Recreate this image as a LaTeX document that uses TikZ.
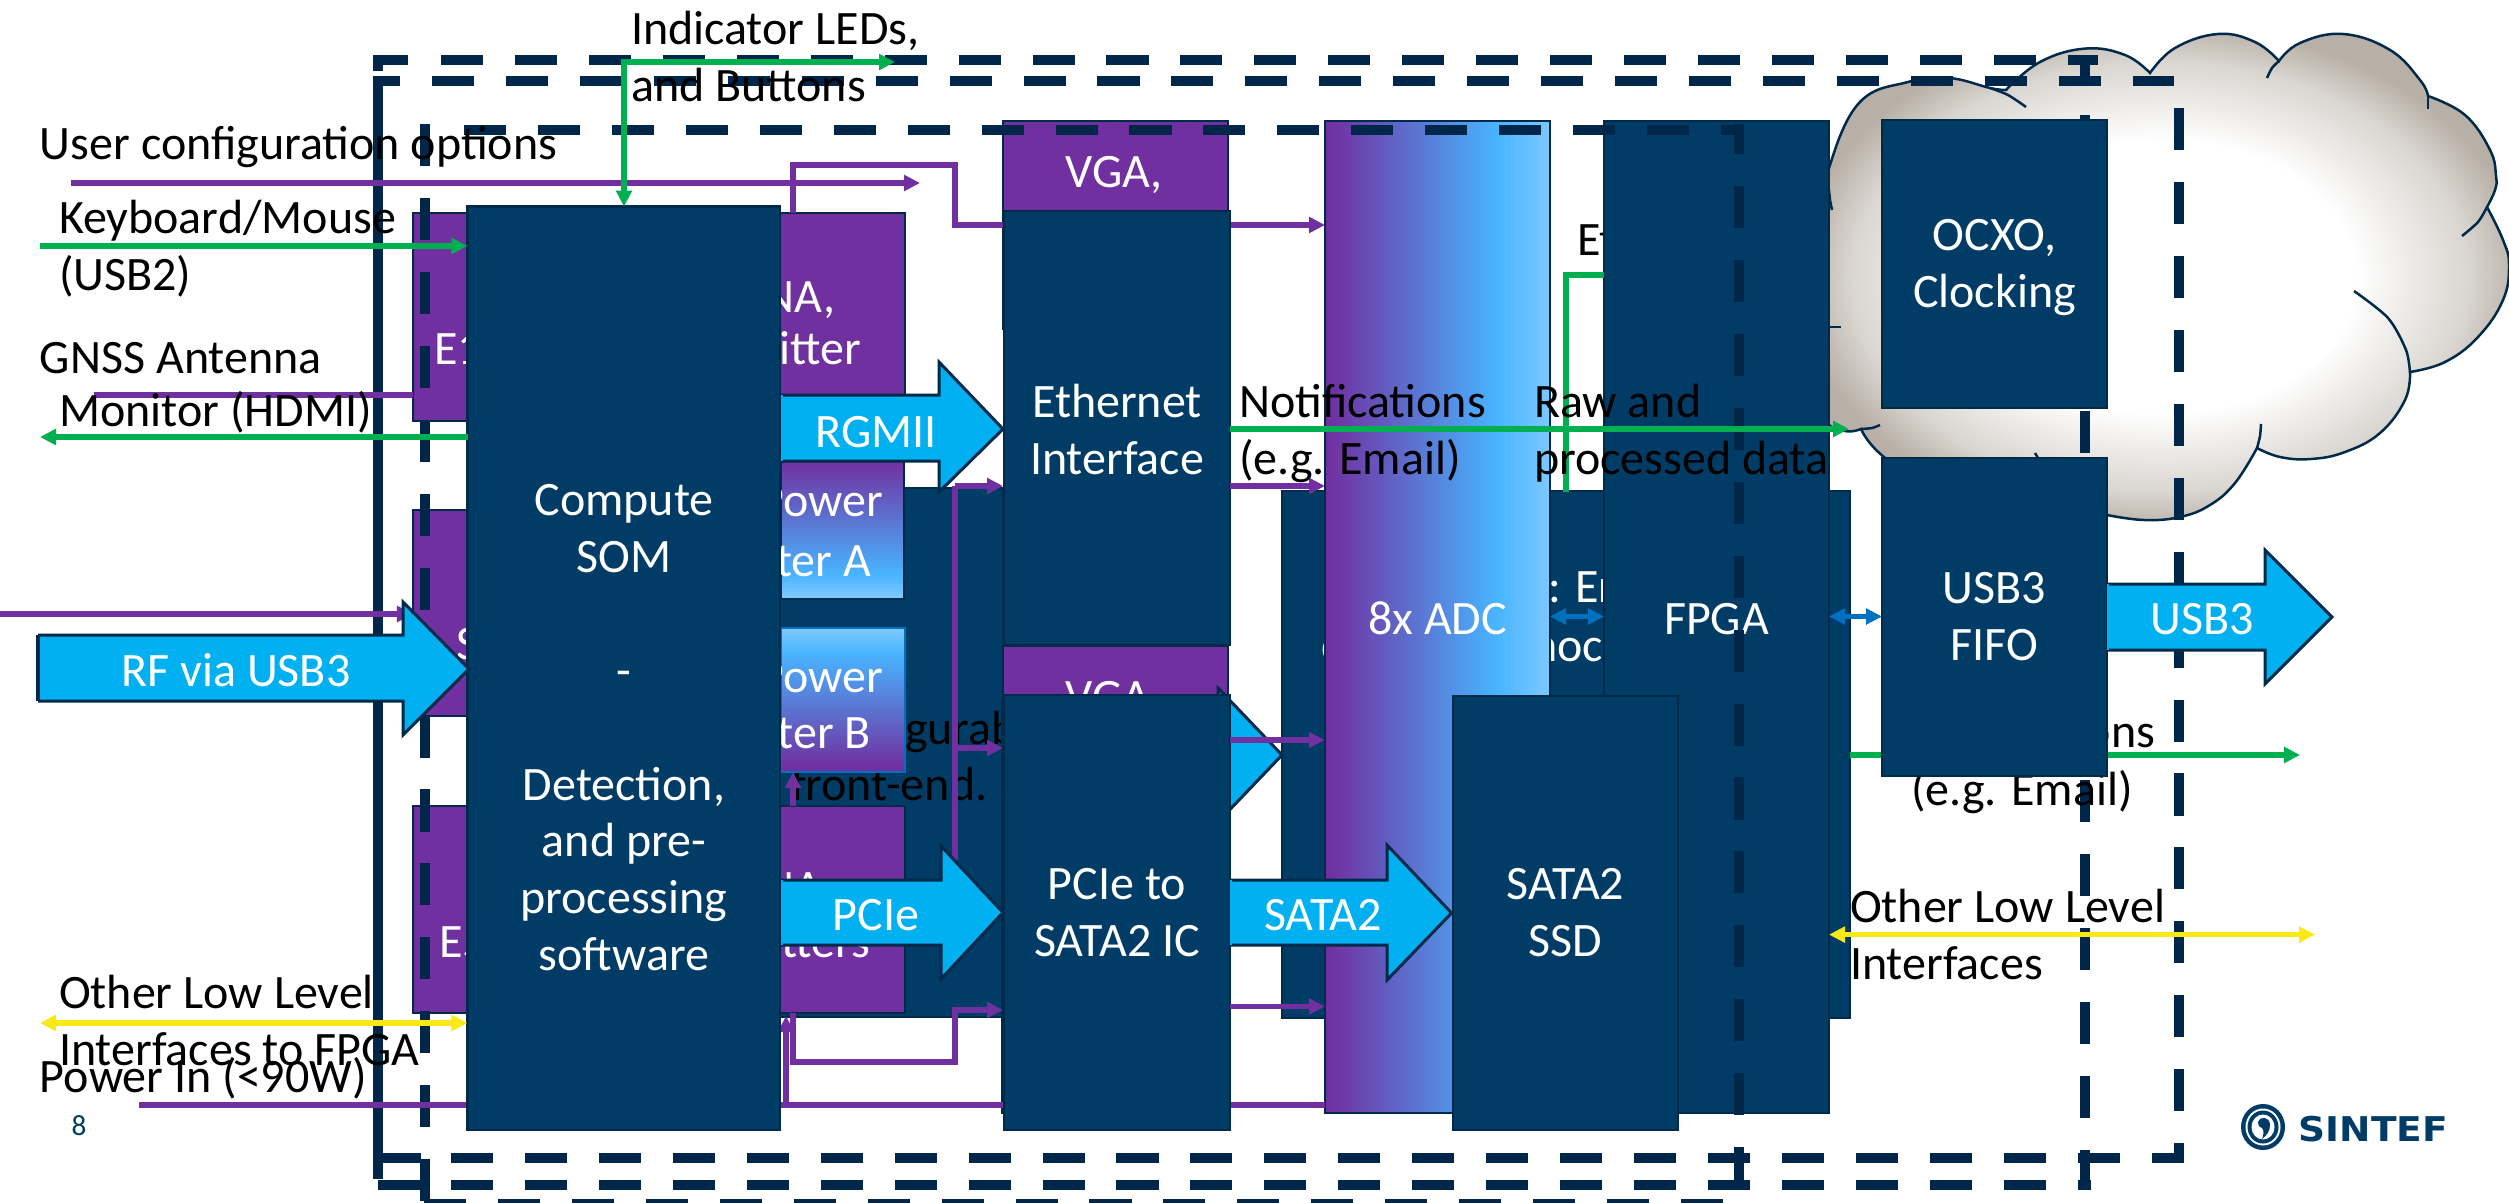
\documentclass[tikz,border=0pt]{standalone}
\usepackage{fontspec}
\setmainfont{Carlito}
\newfontfamily\logofont[FakeStretch=1.1]{DejaVu Sans}
\usetikzlibrary{arrows.meta}
\definecolor{navyb}{HTML}{003C65}
\definecolor{edgeb}{HTML}{002A4A}
\definecolor{dashc}{HTML}{00264A}
\definecolor{purp}{HTML}{7030A0}
\definecolor{cyanb}{HTML}{00B0F0}
\definecolor{grn}{HTML}{00B050}
\definecolor{yel}{HTML}{FAE916}
\definecolor{blu}{HTML}{0070C0}
\definecolor{skyb}{HTML}{48B4FF}
\definecolor{skyl}{HTML}{7DC8FF}
\definecolor{cloudc}{HTML}{B8B0A6}
\definecolor{cloudm}{HTML}{DAD6D1}
\pgfdeclarehorizontalshading{adcsh}{100bp}{color(0bp)=(purp);color(26bp)=(purp);color(63bp)=(skyb);color(75bp)=(skyl);color(100bp)=(skyl)}
\pgfdeclareverticalshading{splitash}{100bp}{color(0bp)=(skyl);color(26bp)=(skyl);color(34bp)=(skyb);color(75bp)=(purp);color(100bp)=(purp)}
\pgfdeclareverticalshading{splitbsh}{100bp}{color(0bp)=(purp);color(27bp)=(purp);color(66bp)=(skyb);color(75bp)=(skyl);color(100bp)=(skyl)}
\pgfdeclareradialshading{cloudsh}{\pgfpoint{0bp}{0bp}}{color(0bp)=(white);color(14bp)=(white);color(22bp)=(cloudm);color(26bp)=(cloudc);color(100bp)=(cloudc)}
\tikzset{
  lbl/.style={inner sep=0pt,outer sep=0pt,font=\fontsize{13.65}{16.2}\selectfont,
    execute at begin node={\rule{0pt}{14.6pt}},execute at end node={\rule[-4.86pt]{0pt}{4.86pt}}},
  blk/.style={lbl,text=black,align=left},
  wht/.style={lbl,text=white,align=center},
  mline/.style={yshift=-0.08cm},
  darkbox/.style={wht,draw=edgeb,fill=navyb,line width=0.025cm},
  purpbox/.style={wht,draw=edgeb,fill=purp,line width=0.025cm},
  adcbox/.style={wht,draw=edgeb,shading=adcsh,shading angle=0,line width=0.025cm},
  splitabox/.style={wht,draw=edgeb,shading=splitash,line width=0.025cm},
  splitbbox/.style={wht,draw=blu,shading=splitbsh,line width=0.025cm},
  barrow/.style={fill=cyanb,draw=edgeb,line width=0.03cm,line join=miter},
  dashln/.style={draw=dashc,line width=0.1cm,dash pattern=on 0.42cm off 0.319cm},
  conn/.style={line width=0.055cm},
  tip/.style={-{Triangle[length=0.16cm,width=0.155cm]}},
  tips/.style={{Triangle[length=0.16cm,width=0.155cm]}-{Triangle[length=0.16cm,width=0.155cm]}},
  cloudln/.style={draw=edgeb,line width=0.025cm},
}
\newcommand\bx[7]{%
  \pgfmathsetmacro\bxcx{(#3+#5)/2}\pgfmathsetmacro\bxcy{(#4+#6)/2}%
  \pgfmathsetmacro\bxw{(#5-#3)*0.01}\pgfmathsetmacro\bxh{(#6-#4)*0.01}%
  \node[#1,minimum width=\bxw cm,minimum height=\bxh cm] (#2) at (\bxcx,\bxcy) {#7};}
\newcommand\blockarrow[8]{%
  \draw[barrow] (#1,#2) -- (#4,#2) -- (#4,#5) -- (#7,#8) -- (#4,#6) -- (#4,#3) -- (#1,#3);
  \fill[cyanb] (#1,#2) rectangle (#1+2,#3);}
\begin{document}
\begin{tikzpicture}[x=0.01cm,y=-0.01cm]
\useasboundingbox (0,0) rectangle (2509,1203);
\clip (0,0) rectangle (2509,1203);
% cloud
\draw[cloudln,shading=cloudsh]
  plot[smooth,tension=0.7] coordinates {(1829,327) (1822,270) (1829,195)}
  -- plot[smooth,tension=0.7] coordinates {(1829,195) (1829,168) (1859,103) (1908,82) (1949,78) (1990,88) (2006,90)}
  -- plot[smooth,tension=0.7] coordinates {(2006,90) (2040,62) (2085,48.6) (2125,55) (2150,73)}
  -- plot[smooth,tension=0.7] coordinates {(2150,73) (2175,48) (2218,34) (2255,42) (2279,61)}
  -- plot[smooth,tension=0.7] coordinates {(2279,61) (2300,43) (2343,34) (2390,50) (2420,80) (2428,96)}
  -- plot[smooth,tension=0.7] coordinates {(2428,96) (2465,115) (2490,150) (2496,176) (2495,190) (2487,207)}
  -- plot[smooth,tension=0.7] coordinates {(2487,207) (2503,240) (2509,265) (2503,300) (2478,337) (2445,362) (2410,372)}
  -- plot[smooth,tension=0.7] coordinates {(2410,372) (2405,400) (2380,433) (2345,452) (2311,459) (2280,457) (2257,448)}
  -- plot[smooth,tension=0.7] coordinates {(2257,448) (2235,483) (2210,505) (2180,517) (2144,520) (2107,515)}
  -- plot[smooth,tension=0.7] coordinates {(2107,515) (2030,510) (1950,500) (1884,457) (1861,429)}
  -- plot[smooth,tension=0.7] coordinates {(1861,429) (1845,431) (1825,420) (1812,380) (1829,327)}
  -- cycle;
\draw[cloudln] plot[smooth] coordinates {(1990,88) (2008,95) (2026,107)};
\draw[cloudln] plot[smooth] coordinates {(2267,78) (2272,68) (2279,61)};
\draw[cloudln] (2428,96) -- (2428,109);
\draw[cloudln] plot[smooth] coordinates {(2487,207) (2478,222) (2462,236)};
\draw[cloudln] plot[smooth] coordinates {(2354,291) (2388,318) (2406,350) (2410,373)};
\draw[cloudln] plot[smooth] coordinates {(2261,424) (2260,436) (2257,448)};
\draw[cloudln] plot[smooth] coordinates {(1861,429) (1872,428) (1880,425)};
\draw[cloudln] (2035,453) -- (2038,458);
\draw[cloudln] (1829,327) -- (1841,327);
\draw[cloudln] plot[smooth] coordinates {(1829,190) (1830,200) (1832,210)};
\node[wht,anchor=east] (alfrag) at (2331,295) {al};
% back boxes
\bx{darkbox}{cfgbox}{780}{488}{1003}{1017}{}
\bx{purpbox}{e1box}{413}{213}{905}{421}{}
\bx{purpbox}{sbox}{413}{510}{780}{716}{}
\bx{purpbox}{e5box}{413}{806}{905}{1013}{}
\bx{splitabox}{splita}{781}{461}{904}{599}{}
\node[wht,anchor=west] (e1t) at (434,347) {E1};
\node[wht,anchor=west] (st) at (456,642) {S};
\node[wht,anchor=west] (e5t) at (439,940) {E5};
\node[wht,anchor=east] (nat) at (835,295) {NA,};
\node[wht,anchor=east] (ittert) at (861,347) {itter};
\node[wht,anchor=east] (nab) at (822,886) {NA};
\node[wht,anchor=east] (tterst) at (870,940) {tters};
\node[wht,anchor=east] (powa) at (883,499) {Power};
\node[wht,anchor=east] (tera) at (871,559) {ter A};
\node[blk,anchor=west] (gurab) at (905,727) {gurab};
\node[blk,anchor=west] (frontend) at (791,783) {front-end.};
\bx{splitbbox}{splitb}{781}{628}{905}{772}{}
\node[wht,anchor=east] (powb) at (883,675) {Power};
\node[wht,anchor=east] (terb) at (871,731) {ter B};
\bx{purpbox}{vgat}{1003}{121}{1228}{329}{}
\node[wht] (vgatt) at (1114,170) {VGA,};
\bx{purpbox}{vgab}{1003}{646}{1228}{855}{}
\node[wht] (vgabt) at (1114,695) {VGA,};
\bx{darkbox}{lowstrip}{1002}{700}{1100}{1113}{}
\bx{darkbox}{widebox}{1282}{491}{1850}{1018}{}
\node[wht,anchor=west] (cfrag) at (1321,644) {c};
\node[wht,anchor=west] (erfrag) at (1548,585) {: Er};
\node[wht,anchor=west] (nocfrag) at (1532,644) {noc};
\bx{adcbox}{adc}{1325}{121}{1550}{1113}{8x ADC}
\node[blk,anchor=west] (etfrag) at (1577,238) {Et};
\coordinate (gbottom) at (1566,492);
\coordinate (gcorner) at (1566,275);
\bx{darkbox}{fpga}{1604}{121}{1829}{1113}{FPGA}
\draw[conn,draw=grn] (gbottom) -- (gcorner) -- (gcorner -| fpga.west);
% dashed frames
\draw[dashln] (441,60) -- (2098,60);
\draw[dashln] (373,60) -- (408,60);
\draw[dashln] (432,81) -- (2174,81);
\draw[dashln] (373,81) -- (400,81);
\draw[dashln] (464,130) -- (1744,130);
\draw[dashln] (425,124) -- (425,1201);
\draw[dashln] (424,1204) -- (1724,1204);
\draw[dashln] (451,1158) -- (2184,1158);
\draw[dashln] (451,1185) -- (2091,1185);
\draw[draw=dashc,line width=0.1cm] (373,1158) -- (421,1158);
\draw[draw=dashc,line width=0.1cm] (378,1185) -- (421,1185);
\draw[draw=dashc,line width=0.1cm] (378,76) -- (378,1179);
\draw[draw=dashc,line width=0.1cm] (378,55) -- (378,71);
\draw[dashln,dash phase=0.14cm] (2085,55) -- (2085,1187);
\draw[dashln] (2179,108) -- (2179,1163);
\draw[dashln,dash phase=0.12cm] (1739,124) -- (1739,1180);
% texts under right boxes
\node[blk,anchor=east] (onsfrag) at (2155,730) {ons};
\node[blk,anchor=west] (emailr) at (1911,788) {(e.g. Email)};
\coordinate (gr) at (2300,755);
\draw[conn,draw=grn,tip] (widebox.east |- gr) -- (gr);
\bx{darkbox}{ocxo}{1882}{120}{2107}{408}{}
\node[wht,mline] (ocxot) at (ocxo) {OCXO,\\Clocking};
\bx{darkbox}{fifo}{1882}{458}{2107}{776}{}
\node[wht,mline] (fifot) at (fifo) {USB3\\FIFO};
% purple connectors
\coordinate (ucfgs) at (71,183);
\coordinate (ucfge) at (920,183);
\draw[conn,draw=purp,tip] (ucfgs) -- (ucfge);
\coordinate (tubx) at (793,165);
\coordinate (tvx) at (955,165);
\coordinate (tvy) at (955,225);
\draw[conn,draw=purp] (tubx |- e1box.north) -- (tubx) -- (tvx) -- (tvy) -- (vgat.west |- tvy);
\draw[conn,draw=purp,tip] (vgat.east |- tvy) -- (adc.west |- tvy);
\coordinate (gnsss) at (94,395);
\draw[conn,draw=purp] (gnsss) -- (e1box.west |- gnsss);
\coordinate (rfl) at (0,614);
\draw[conn,draw=purp,tip] (rfl) -- (sbox.west |- rfl);
\coordinate (v1) at (955,486);
\coordinate (v2) at (955,748);
\coordinate (v3) at (955,860);
\draw[conn,draw=purp] (v1) -- (v3);
\draw[conn,draw=purp,tip] (v1) -- (1003,486);
\draw[conn,draw=purp,tip] (v2) -- (1003,748);
\coordinate (b1) at (793,1062);
\coordinate (b2) at (955,1062);
\coordinate (b3) at (955,1010);
\draw[conn,draw=purp,tip] (b1 |- e5box.south) -- (b1) -- (b2) -- (b3) -- (1003,1010);
\coordinate (upa) at (793,806);
\draw[conn,draw=purp,tip] (upa) -- (splitb.south -| upa);
\coordinate (upb) at (786,1104);
\draw[conn,draw=purp,tip] (upb) -- (786,1016);
\coordinate (pwrs) at (139,1105);
\draw[conn,draw=purp] (pwrs) -- (adc.west |- pwrs);
% hidden arrow
\blockarrow{1100}{722}{788}{1218}{688}{822}{1282}{755}
% boxes over connectors
\bx{darkbox}{ether}{1004}{211}{1230}{645}{}
\node[wht,mline] (ethert) at (1117,430) {Ethernet\\Interface};
\coordinate (p1) at (0,486);
\coordinate (p2) at (0,740);
\coordinate (p3) at (0,1006.5);
\bx{darkbox}{pcie}{1004}{695}{1230}{1130}{}
\node[wht,mline] (pciet) at (pcie) {PCIe to\\SATA2 IC};
\draw[conn,draw=purp,tip] (ether.east |- p1) -- (adc.west |- p1);
\draw[conn,draw=purp,tip] (pcie.east |- p2) -- (adc.west |- p2);
\draw[conn,draw=purp,tip] (pcie.east |- p3) -- (adc.west |- p3);
\bx{darkbox}{som}{467.5}{206.6}{780}{1130}{}
\node[wht,yshift=-0.07cm] (somtext) at (624,729) {Compute\\SOM\\\mbox{}\\-\\\mbox{}\\Detection,\\and pre-\\processing\\software};
% block arrows
\blockarrow{781}{395}{461}{939}{362}{492}{1003}{429}
\node[wht] (rgmiil) at (876,430) {RGMII};
\blockarrow{781}{880}{945}{941}{846}{979}{1003}{912.5}
\node[wht] (pciel) at (876,913) {PCIe};
\blockarrow{38}{635}{701}{403}{602}{735}{469}{669}
\draw[barrow] (38,635) -- (38,701);
\node[wht] (rfl2) at (236,669) {RF via USB3};
\blockarrow{1230}{880}{945}{1387}{845}{980}{1451.5}{913}
\node[wht] (satal) at (1323,913) {SATA2};
\blockarrow{2107}{584}{650}{2265}{550}{684}{2332}{617}
\node[wht] (usbl) at (2202,617) {USB3};
\bx{darkbox}{ssd}{1453}{696}{1678}{1130}{}
\node[wht,mline] (ssdt) at (ssd) {SATA2\\SSD};
% green connectors
\coordinate (indm) at (624,62);
\coordinate (inde) at (895,62);
\draw[conn,draw=grn,tips] (inde) -- (indm) -- (indm |- som.north);
\coordinate (kbs) at (40,246);
\draw[conn,draw=grn,tip] (kbs) -- (som.west |- kbs);
\coordinate (mons) at (40,437);
\draw[conn,draw=grn,tip] (som.west |- mons) -- (mons);
\coordinate (note) at (1849,429);
\draw[conn,draw=grn,tip] (ether.east |- note) -- (note);
% yellow and blue
\coordinate (yl) at (40,1023);
\draw[conn,draw=yel,tips] (yl) -- (som.west |- yl);
\coordinate (yr) at (2315,934.6);
\draw[conn,draw=yel,tips] (fpga.east |- yr) -- (yr);
\coordinate (by) at (0,616.5);
\draw[conn,draw=blu,tips] (adc.east |- by) -- (fpga.west |- by);
\draw[conn,draw=blu,tips] (fpga.east |- by) -- (fifo.west |- by);
% black labels
\node[blk,mline,anchor=west] (leds) at (631,57) {Indicator LEDs,\\and Buttons};
\node[blk,anchor=west] (ucfg) at (40,142) {User configuration options};
\node[blk,mline,anchor=west] (kbd) at (59,246) {Keyboard/Mouse\\(USB2)};
\node[blk,anchor=west] (gnss) at (40,356) {GNSS Antenna};
\node[blk,anchor=west] (moni) at (59,409) {Monitor (HDMI)};
\node[blk,yshift=-0.05cm,anchor=west] (othl) at (59,1024) {Other Low Level\\Interfaces to FPGA};
\node[blk,anchor=west] (pwr) at (40,1075) {Power In (<90W)};
\node[blk,mline,anchor=west] (notif) at (1239,430) {Notifications\\(e.g. Email)};
\node[blk,mline,anchor=west] (raw) at (1534,430) {Raw and\\processed data};
\node[blk,mline,anchor=west] (othr) at (1850,935) {Other Low Level\\Interfaces};
\node[inner sep=0pt,text=navyb,font=\fontsize{8.3}{10}\selectfont] (pagenum) at (79,1126) {8};
% logo
\fill[navyb] (2263,1127) ellipse [x radius=0.22cm,y radius=0.23cm];
\fill[white] (2263,1127) ellipse [x radius=0.175cm,y radius=0.185cm];
\fill[navyb] (2263,1127) ellipse [x radius=0.155cm,y radius=0.165cm];
\fill[white] (2263,1127) ellipse [x radius=0.115cm,y radius=0.125cm];
\fill[navyb] (2258,1122) .. controls (2259,1116) and (2270,1116) .. (2270,1125) .. controls (2270,1131) and (2267,1135) .. (2262,1139) .. controls (2264,1134) and (2264,1130) .. (2262,1128) .. controls (2259,1128) and (2258,1125) .. (2258,1122) -- cycle;
\node[inner sep=0pt,anchor=west,text=navyb,font=\logofont\bfseries\fontsize{9.7}{11}\selectfont] (sintef) at (2298,1129) {SINTEF};
\end{tikzpicture}
\end{document}
